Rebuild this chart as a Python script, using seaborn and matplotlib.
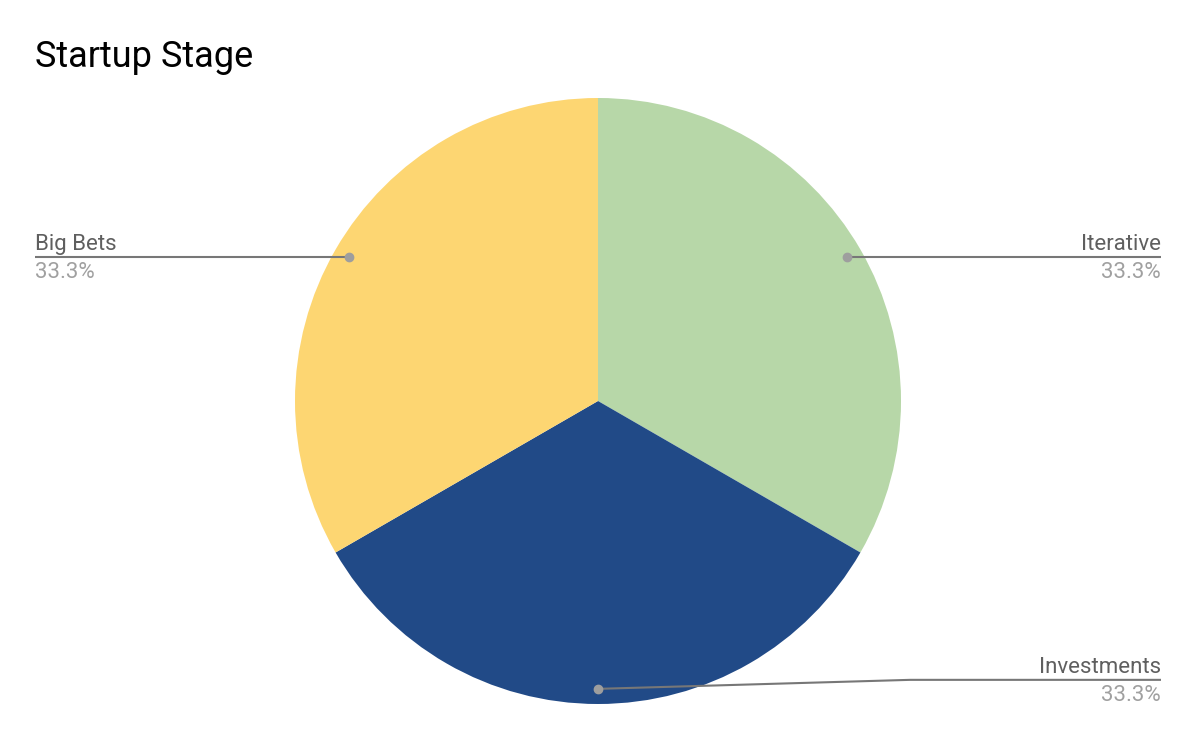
import numpy as np
import matplotlib
matplotlib.use("Agg")
import matplotlib.pyplot as plt
import seaborn as sns

categories = ["Iterative", "Investments", "Big Bets"]
values = [1, 1, 1]
colors = ["#b7d7a8", "#214a87", "#fdd672"]

sns.set_theme(style="white")
plt.rcParams['font.family'] = ['Roboto', 'DejaVu Sans']

W, H = 1198, 740
fig = plt.figure(figsize=(W / 100, H / 100), dpi=100)
ax = fig.add_axes([0, 0, 1, 1])

R = 303.0
cx, cy = 598.0, 401.0
wedges, _ = ax.pie(values, colors=colors, startangle=90, counterclock=False,
                   radius=1, center=(0, 0),
                   wedgeprops=dict(linewidth=0))
ax.set_aspect('auto')
ax.set_xlim(-cx / R, (W - cx) / R)
ax.set_ylim(-(H - cy) / R, cy / R)
ax.axis('off')

total = sum(values)
px = 1 / R
xl = (1161 - cx) / R
for w, cat, v in zip(wedges, categories, values):
    mid = np.deg2rad((w.theta1 + w.theta2) / 2)
    dx, dy = 0.95 * np.cos(mid), 0.95 * np.sin(mid)
    pct = f"{100 * v / total:.1f}%"
    if abs(np.cos(mid)) > 0.3:
        side = 1 if np.cos(mid) > 0 else -1
        ly = dy
        pts_x = [dx, side * xl]
        pts_y = [dy, dy]
    else:
        side = 1
        ly = dy + 9 * px
        pts_x = [dx, (910 - cx) / R, xl]
        pts_y = [dy, ly, ly]
    ax.plot(pts_x, pts_y, color="#777777", lw=1.5, solid_capstyle='butt', zorder=3)
    ax.plot([dx], [dy], 'o', color="#9e9e9e", ms=6, zorder=4)
    ha = 'right' if side > 0 else 'left'
    ax.text(side * xl, ly + 7 * px, cat, ha=ha, va='baseline',
            fontsize=16, color="#5f5f5f")
    ax.text(side * xl, ly - 5 * px, pct, ha=ha, va='top',
            fontsize=16, color="#a0a0a0")

fig.text(35 / W, 1 - 67 / H, "Startup Stage", ha='left', va='baseline',
         fontsize=26, color="#000000")

fig.savefig("out.png", dpi=100)
